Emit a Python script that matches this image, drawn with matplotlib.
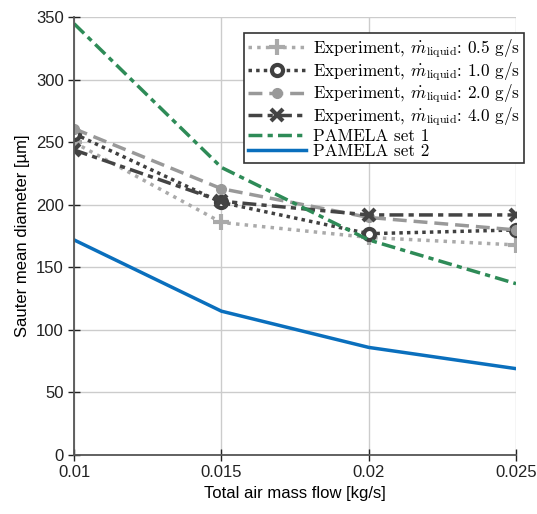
import matplotlib
matplotlib.use("Agg")
import matplotlib.pyplot as plt

air_flow = [0.01, 0.015, 0.02, 0.025]

exp_05 = [250, 186, 174, 168]
exp_10 = [257, 202, 177, 180]
exp_20 = [261, 213, 190, 180]
exp_40 = [244, 203, 192, 192]
pamela_1 = [345, 230, 172, 137]
pamela_2 = [172, 115, 86, 69]

plt.rcParams["font.family"] = ["Liberation Sans", "DejaVu Sans"]
plt.rcParams["mathtext.fontset"] = "cm"

fig = plt.figure(figsize=(5.37, 5.14), dpi=100)
ax = fig.add_axes([0.138, 0.115, 0.823, 0.851])

ax.plot(air_flow, exp_05, color="#aaaaaa", linestyle=(0, (1, 1.5)), linewidth=2.5,
        marker="+", markersize=11, markeredgewidth=3,
        label=r"Experiment, $\dot{m}_{\mathrm{liquid}}$: 0.5 g/s")
ax.plot(air_flow, exp_10, color="#404040", linestyle=(0, (1, 1.2)), linewidth=2.5,
        marker="o", markersize=8, markerfacecolor="white", markeredgewidth=3,
        label=r"Experiment, $\dot{m}_{\mathrm{liquid}}$: 1.0 g/s")
ax.plot(air_flow, exp_20, color="#999999", linestyle=(0, (4, 2)), linewidth=2.5,
        marker="o", markersize=7,
        label=r"Experiment, $\dot{m}_{\mathrm{liquid}}$: 2.0 g/s")
ax.plot(air_flow, exp_40, color="#444444", linestyle=(0, (4, 1.5, 1.5, 1.5)), linewidth=2.5,
        marker="x", markersize=9, markeredgewidth=3,
        label=r"Experiment, $\dot{m}_{\mathrm{liquid}}$: 4.0 g/s")
ax.plot(air_flow, pamela_1, color="#2e8b57", linestyle=(0, (4, 1.5, 1.5, 1.5)), linewidth=2.5,
        label="PAMELA set 1")
ax.plot(air_flow, pamela_2, color="#0a6fbd", linestyle="-", linewidth=2.5,
        label="PAMELA set 2")

ax.set_xlim(0.01, 0.025)
ax.set_ylim(0, 350)
ax.set_xticks(air_flow)
ax.set_xticklabels(["0.01", "0.015", "0.02", "0.025"])
ax.set_yticks(range(0, 351, 50))
ax.tick_params(labelsize=12, colors="#222222", direction="inout", length=8, width=1)
ax.set_xlabel("Total air mass flow [kg/s]", fontsize=12)
ax.set_ylabel("Sauter mean diameter [µm]", fontsize=12)
ax.grid(True, color="#cccccc", linewidth=1)
ax.set_axisbelow(True)
for side in ["top", "right"]:
    ax.spines[side].set_visible(False)
for side in ["left", "bottom"]:
    ax.spines[side].set_color("#555555")
    ax.spines[side].set_linewidth(1.3)

leg = ax.legend(loc="upper right", bbox_to_anchor=(1.018, 0.965), fancybox=False,
                edgecolor="#333333", framealpha=1,
                prop={"family": ["cmr10", "DejaVu Serif"], "size": 12.3},
                handlelength=3.4, handletextpad=0.4, labelspacing=0.0,
                borderpad=0.25, borderaxespad=0.0)
leg.get_frame().set_linewidth(1.2)

fig.savefig("out.png", dpi=100)
